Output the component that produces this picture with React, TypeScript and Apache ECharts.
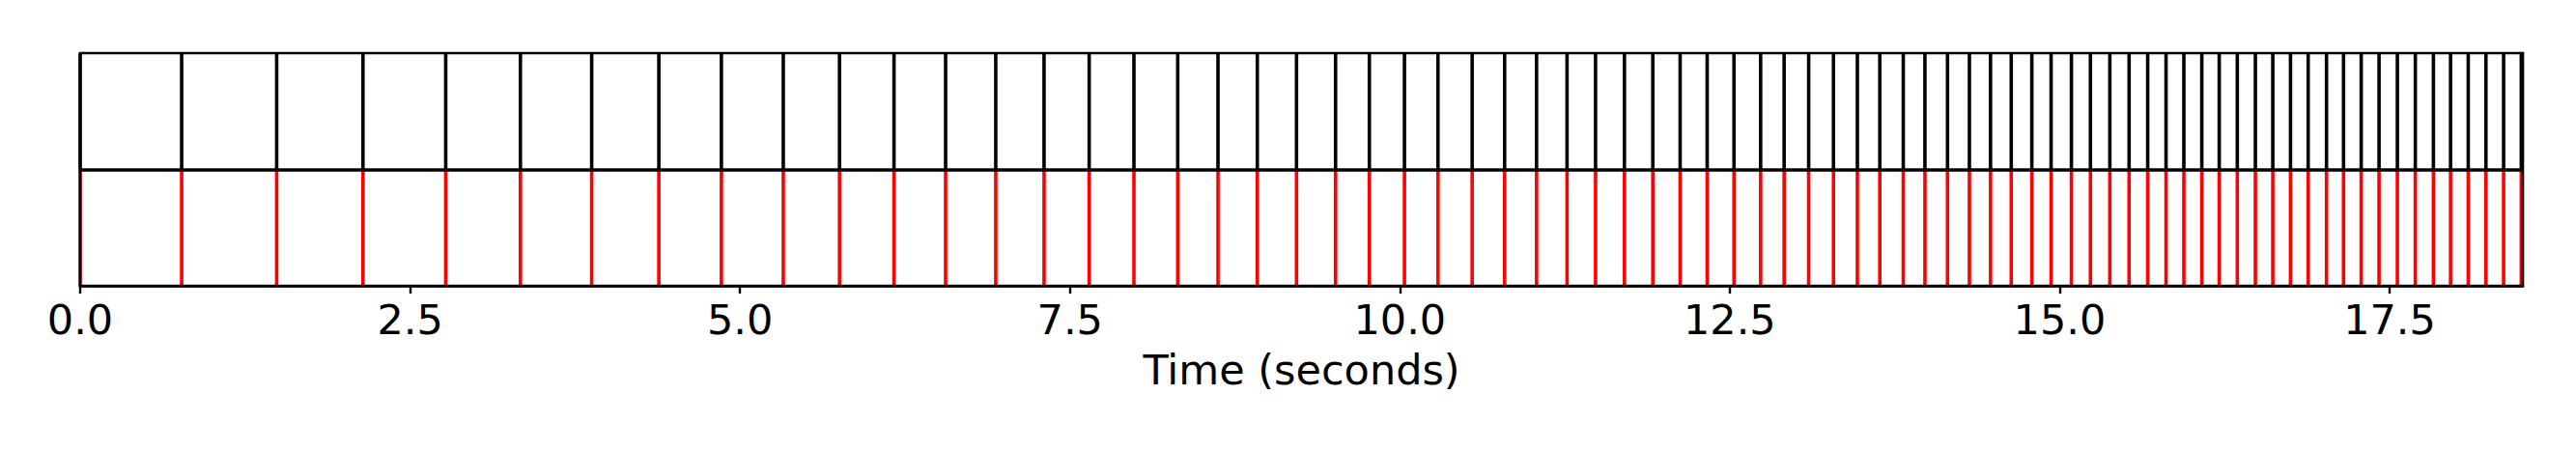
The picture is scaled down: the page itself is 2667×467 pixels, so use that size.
import React, { useEffect, useRef } from "react";
import * as echarts from "echarts";

// Event times (seconds)
const beatTimes: number[] = [
  0.0, 0.769, 1.489, 2.143, 2.77, 3.336, 3.876, 4.385, 4.859, 5.328,
  5.754, 6.167, 6.558, 6.938, 7.304, 7.646, 7.985, 8.317, 8.622, 8.92,
  9.217, 9.513, 9.769, 10.035, 10.289, 10.548, 10.794, 11.036, 11.267, 11.483,
  11.702, 11.917, 12.124, 12.329, 12.532, 12.734, 12.912, 13.098, 13.286, 13.467,
  13.637, 13.815, 13.979, 14.15, 14.316, 14.476, 14.633, 14.789, 14.935, 15.089,
  15.233, 15.38, 15.526, 15.667, 15.806, 15.941, 16.077, 16.209, 16.346, 16.483,
  16.615, 16.749, 16.883, 17.022, 17.151, 17.285, 17.42, 17.559, 17.695, 17.832,
  17.962, 18.096, 18.23, 18.364, 18.498,
];

// Top row (black) and bottom row (red) events
const topEvents: number[] = beatTimes;
const bottomEvents: number[] = beatTimes;

const xTicks: number[] = [0, 2.5, 5, 7.5, 10, 12.5, 15, 17.5];
const X_MIN = 0;
const X_MAX = 18.51;
const xAxisTitle = "Time (seconds)";

const FONT = "DejaVu Sans";

function eventSeries(name: string, times: number[], y0: number, y1: number, color: string) {
  return {
    name,
    type: "custom",
    data: times.map((t) => [t, y0]),
    encode: { x: 0, y: 1 },
    silent: true,
    z: 3,
    renderItem: (_params: any, api: any) => {
      const t = api.value(0);
      const p0 = api.coord([t, y0]);
      const p1 = api.coord([t, y1]);
      return {
        type: "line",
        shape: { x1: p0[0], y1: p0[1], x2: p1[0], y2: p1[1] },
        style: { stroke: color, lineWidth: 3.6 },
      };
    },
  };
}

export default function App() {
  const ref = useRef<HTMLDivElement>(null);

  useEffect(() => {
    document.body.style.margin = "0";
    if (!ref.current) return;
    const chart = echarts.init(ref.current, undefined, { renderer: "svg" });
    chart.setOption({
      animation: false,
      backgroundColor: "#ffffff",
      grid: {
        left: 83,
        top: 55,
        width: 2529,
        height: 241,
        show: true,
        borderColor: "#000000",
        borderWidth: 2.6,
        backgroundColor: "transparent",
        z: 5,
      },
      xAxis: {
        type: "value",
        min: X_MIN,
        max: X_MAX,
        name: xAxisTitle,
        nameLocation: "middle",
        nameGap: 65,
        nameTextStyle: { fontFamily: FONT, fontSize: 43, color: "#000" },
        axisLine: { show: true, onZero: false, lineStyle: { color: "#000", width: 2.6 } },
        axisTick: {
          show: true,
          inside: false,
          length: 8,
          lineStyle: { color: "#000", width: 2.4 },
          customValues: xTicks,
        },
        axisLabel: {
          show: true,
          margin: 13,
          fontFamily: FONT,
          fontSize: 43,
          color: "#000",
          customValues: xTicks,
          formatter: (v: number) => v.toFixed(1),
        },
        splitLine: { show: false },
      },
      yAxis: {
        type: "value",
        min: 0,
        max: 2,
        show: false,
        splitLine: { show: false },
      },
      series: [
        eventSeries("top", topEvents, 1, 2, "#000000"),
        {
          ...eventSeries("bottom", bottomEvents, 0, 1, "#ff0000"),
          markLine: {
            silent: true,
            symbol: "none",
            label: { show: false },
            lineStyle: { color: "#000000", width: 3.6, type: "solid" },
            data: [{ yAxis: 1 }],
          },
        },
      ],
    });
    return () => chart.dispose();
  }, []);

  return <div ref={ref} style={{ width: 2667, height: 467 }} />;
}
